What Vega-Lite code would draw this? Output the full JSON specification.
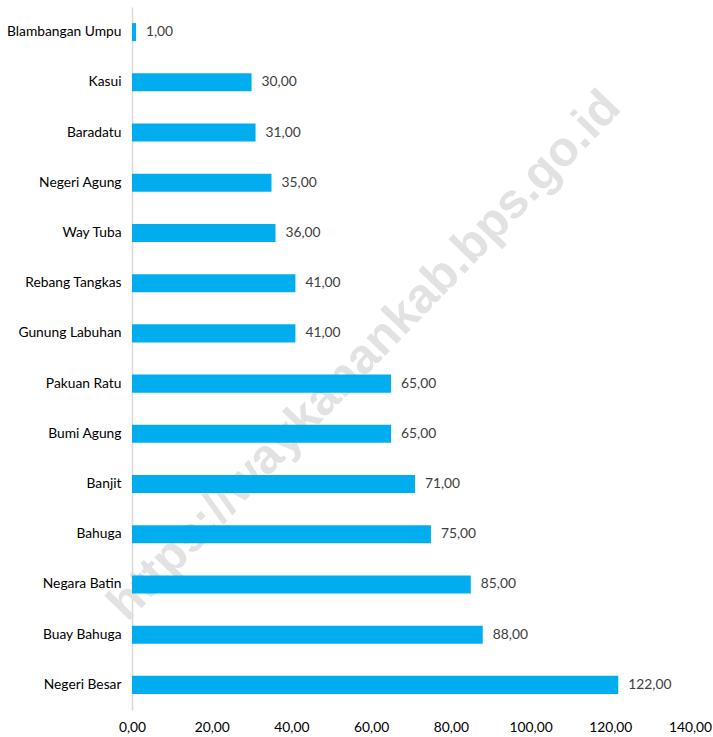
{
  "$schema": "https://vega.github.io/schema/vega-lite/v6.json",
  "width": 558,
  "height": 703,
  "autosize": "none",
  "padding": {"left": 132, "top": 7, "right": 23, "bottom": 27},
  "background": "white",
  "config": {
    "view": {"stroke": null},
    "locale": {"number": {"decimal": ",", "thousands": ".", "grouping": [3], "currency": ["Rp", ""]}}
  },
  "datasets": {
    "wm": [{"wm": "https://waykanankab.bps.go.id", "wx": 63.7, "wy": "Gunung Labuhan"}]
  },
  "data": {
    "values": [
      {"kecamatan": "Blambangan Umpu", "nilai": 1},
      {"kecamatan": "Kasui", "nilai": 30},
      {"kecamatan": "Baradatu", "nilai": 31},
      {"kecamatan": "Negeri Agung", "nilai": 35},
      {"kecamatan": "Way Tuba", "nilai": 36},
      {"kecamatan": "Rebang Tangkas", "nilai": 41},
      {"kecamatan": "Gunung Labuhan", "nilai": 41},
      {"kecamatan": "Pakuan Ratu", "nilai": 65},
      {"kecamatan": "Bumi Agung", "nilai": 65},
      {"kecamatan": "Banjit", "nilai": 71},
      {"kecamatan": "Bahuga", "nilai": 75},
      {"kecamatan": "Negara Batin", "nilai": 85},
      {"kecamatan": "Buay Bahuga", "nilai": 88},
      {"kecamatan": "Negeri Besar", "nilai": 122}
    ]
  },
  "encoding": {
    "y": {
      "field": "kecamatan",
      "type": "nominal",
      "scale": {
        "domain": ["Blambangan Umpu", "Kasui", "Baradatu", "Negeri Agung", "Way Tuba", "Rebang Tangkas", "Gunung Labuhan", "Pakuan Ratu", "Bumi Agung", "Banjit", "Bahuga", "Negara Batin", "Buay Bahuga", "Negeri Besar"],
        "paddingInner": 0.64,
        "paddingOuter": 0.32
      },
      "axis": {
        "title": null,
        "ticks": false,
        "labelPadding": 11,
        "labelFont": "Lato",
        "labelFontSize": 13.8,
        "labelColor": "#000000",
        "domainColor": "#d9d9d9",
        "domainWidth": 1.5
      }
    },
    "x": {
      "field": "nilai",
      "type": "quantitative",
      "scale": {"domain": [0, 140], "nice": false},
      "axis": {
        "title": null,
        "values": [0, 20, 40, 60, 80, 100, 120, 140],
        "format": ".2f",
        "domain": false,
        "ticks": false,
        "grid": false,
        "labelPadding": 10,
        "labelFont": "Lato",
        "labelFontSize": 13.8,
        "labelColor": "#000000",
        "labelFlush": false
      }
    }
  },
  "layer": [
    {
      "data": {"name": "wm"},
      "mark": {
        "type": "text",
        "angle": 314,
        "font": "Liberation Sans",
        "fontWeight": "bold",
        "fontSize": 49,
        "color": "#e2e2e2",
        "align": "center",
        "baseline": "middle",
        "dx": -31
      },
      "encoding": {
        "x": {"field": "wx", "type": "quantitative"},
        "y": {"field": "wy", "type": "nominal"},
        "text": {"field": "wm"}
      }
    },
    {
      "mark": {"type": "bar", "color": "#00AEEF"}
    },
    {
      "mark": {
        "type": "text",
        "align": "left",
        "baseline": "middle",
        "dx": 10,
        "font": "Lato",
        "fontSize": 13.8,
        "color": "#404040"
      },
      "encoding": {
        "text": {"field": "nilai", "type": "quantitative", "format": ".2f"}
      }
    }
  ]
}
